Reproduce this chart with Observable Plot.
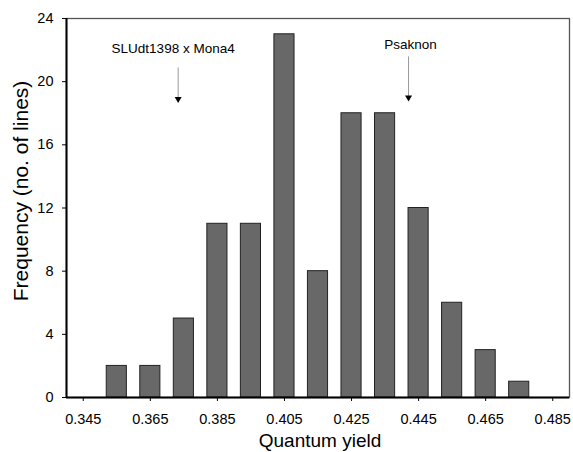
<!DOCTYPE html>
<html>
<head>
<meta charset="utf-8">
<script src="https://cdn.jsdelivr.net/npm/d3@7"></script>
<script src="https://cdn.jsdelivr.net/npm/@observablehq/plot@0.6"></script>
<style>
  html, body { margin: 0; padding: 0; background: white; }
</style>
</head>
<body>
<div id="chart"></div>
<script>
const binCenters = [0.355, 0.365, 0.375, 0.385, 0.395, 0.405, 0.415, 0.425, 0.435, 0.445, 0.455, 0.465, 0.475];
const counts = [2, 2, 5, 11, 11, 23, 8, 18, 18, 12, 6, 3, 1];
const xTicks = [0.345, 0.365, 0.385, 0.405, 0.425, 0.445, 0.465, 0.485];
const yTicks = [0, 4, 8, 12, 16, 20, 24];
const annLabels = ["SLUdt1398 x Mona4", "Psaknon"];
const annTextX = [0.3718, 0.4426];
const annTextY = [22.1, 22.35];
const annArrowX = [0.3733, 0.442];
const annArrowTop = [20.9, 21.6];
const annArrowTip = [18.9, 19.0];
const xLabel = "Quantum yield";
const yLabel = "Frequency (no. of lines)";

const halfWidth = 0.003;
const bars = binCenters.map((x, i) => ({x1: x - halfWidth, x2: x + halfWidth, count: counts[i]}));
const ann = annLabels.map((label, i) => ({
  label, tx: annTextX[i], ty: annTextY[i], ax: annArrowX[i], top: annArrowTop[i], tip: annArrowTip[i]
}));

const chart = Plot.plot({
  width: 573,
  height: 452,
  marginLeft: 66,
  marginTop: 18,
  marginRight: 4,
  marginBottom: 55,
  style: {fontFamily: "'Liberation Sans', Arial, sans-serif", fontSize: "14.5px", background: "white", color: "black"},
  x: {domain: [0.34, 0.49]},
  y: {domain: [0, 24]},
  marks: [
    Plot.frame({stroke: "#555", strokeWidth: 1.3}),
    Plot.rect(bars, {x1: "x1", x2: "x2", y1: 0, y2: "count", fill: "#686868", stroke: "#222", strokeWidth: 1}),
    Plot.ruleX([0.34], {stroke: "black", strokeWidth: 2}),
    Plot.ruleY([0], {stroke: "black", strokeWidth: 2}),
    Plot.axisX({ticks: xTicks, tickFormat: d3.format(".3f"), tickSize: 4, tickPadding: 12, label: null, fontSize: 14.5}),
    Plot.axisY({ticks: yTicks, tickSize: 4, tickPadding: 9, label: null, fontSize: 14.5}),
    Plot.text([xLabel], {frameAnchor: "bottom", lineAnchor: "bottom", textAnchor: "middle", dx: 2, dy: 49.5, fontSize: 19}),
    Plot.text([yLabel], {frameAnchor: "left", textAnchor: "middle", lineAnchor: "middle", rotate: -90, dx: -45, dy: -17, fontSize: 21}),
    Plot.text(ann, {x: "tx", y: "ty", text: "label", fontSize: 13.5}),
    Plot.link(ann, {x1: "ax", x2: "ax", y1: "top", y2: "tip", stroke: "#999", strokeWidth: 1}),
    Plot.dot(ann, {x: "ax", y: "tip", symbol: "triangle", rotate: 180, r: 2.6, fill: "black", stroke: "none"})
  ]
});
document.getElementById("chart").appendChild(chart);
</script>
</body>
</html>
